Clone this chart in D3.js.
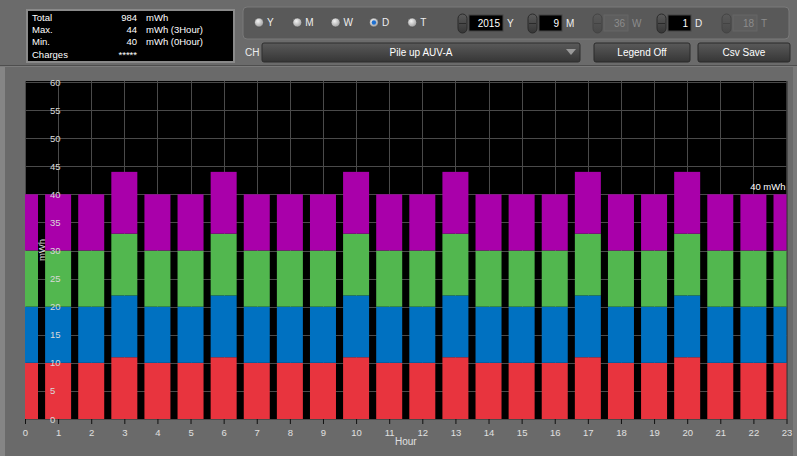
<!DOCTYPE html>
<html><head><meta charset="utf-8">
<script src="https://cdn.jsdelivr.net/npm/d3@7"></script>
<style>
html,body{margin:0;padding:0;background:#6a6a6a;overflow:hidden}
svg{display:block;font-family:"Liberation Sans",Arial,sans-serif}
</style></head><body>
<svg id="c" width="797" height="456"></svg>
<script>
// ---- data ----
const hours = [0,1,2,3,4,5,6,7,8,9,10,11,12,13,14,15,16,17,18,19,20,21,22,23];
const seriesRed     = [10,10,10,11,10,10,11,10,10,10,11,10,10,11,10,10,10,11,10,10,11,10,10,10];
const seriesBlue    = [10,10,10,11,10,10,11,10,10,10,11,10,10,11,10,10,10,11,10,10,11,10,10,10];
const seriesGreen   = [10,10,10,11,10,10,11,10,10,10,11,10,10,11,10,10,10,11,10,10,11,10,10,10];
const seriesMagenta = [10,10,10,11,10,10,11,10,10,10,11,10,10,11,10,10,10,11,10,10,11,10,10,10];
const seriesColors = ["#e8343e","#0071c1","#52b74f","#a900aa"];
const yTicks = [0,5,10,15,20,25,30,35,40,45,50,55,60];
const statLabels = ["Total","Max.","Min.","Charges"];
const statValues = ["984","44","40","*****"];
const statUnits = ["mWh","mWh (3Hour)","mWh (0Hour)",""];
const radioLabels = ["Y","M","W","D","T"];
const selectedRadio = "D";
const spinners = [{v:"2015",u:"Y",on:true},{v:"9",u:"M",on:true},{v:"36",u:"W",on:false},{v:"1",u:"D",on:true},{v:"18",u:"T",on:false}];
const channel = "Pile up AUV-A";
const lastLabel = "40 mWh";

const svg = d3.select("#c");
const defs = svg.append("defs");
const g1 = defs.append("linearGradient").attr("id","btn").attr("x1",0).attr("y1",0).attr("x2",0).attr("y2",1);
g1.append("stop").attr("offset","0").attr("stop-color","#5a5a5a");
g1.append("stop").attr("offset","1").attr("stop-color","#363636");
const g2 = defs.append("radialGradient").attr("id","rad").attr("cx","0.4").attr("cy","0.35").attr("r","0.7");
g2.append("stop").attr("offset","0").attr("stop-color","#f4f4f4");
g2.append("stop").attr("offset","1").attr("stop-color","#9a9a9a");

// ---- background ----
svg.append("rect").attr("width",797).attr("height",456).attr("fill","#6a6a6a");
svg.append("rect").attr("width",797).attr("height",65).attr("fill","#6b6b6b");
svg.append("rect").attr("x",0).attr("y",65).attr("width",797).attr("height",1).attr("fill","#4e4e4e");
svg.append("rect").attr("x",0).attr("y",66).attr("width",797).attr("height",1).attr("fill","#7c7c7c");
svg.append("rect").attr("x",0).attr("y",67).attr("width",5).attr("height",389).attr("fill","#858585");
svg.append("rect").attr("x",793).attr("y",67).attr("width",4).attr("height",389).attr("fill","#7a7a7a");

// ---- stats box ----
svg.append("rect").attr("x",26).attr("y",9).attr("width",209).attr("height",54).attr("fill","#8a8a8a");
svg.append("rect").attr("x",28).attr("y",11).attr("width",205).attr("height",50).attr("fill","#000");
const st = svg.append("g").attr("font-size",9.5).attr("fill","#fff");
statLabels.forEach((t,i)=>{
  const y = 21 + i*12.2;
  st.append("text").attr("x",32).attr("y",y).text(t);
  st.append("text").attr("x",137).attr("y",y).attr("text-anchor","end").text(statValues[i]);
  st.append("text").attr("x",146).attr("y",y).text(statUnits[i]);
});

// ---- control panel ----
svg.append("rect").attr("x",243).attr("y",7).attr("width",546).attr("height",32).attr("rx",4).attr("fill","#595959").attr("stroke","#7a7a7a");
const rg = svg.append("g").attr("font-size",10).attr("fill","#eee");
radioLabels.forEach((t,i)=>{
  const cx = 259 + i*38.3;
  rg.append("circle").attr("cx",cx).attr("cy",22.5).attr("r",4.5).attr("fill","url(#rad)").attr("stroke","#444").attr("stroke-width",0.6);
  if(t===selectedRadio) rg.append("circle").attr("cx",cx).attr("cy",22.5).attr("r",2.2).attr("fill","#1d6fd0");
  rg.append("text").attr("x",cx+8).attr("y",26).text(t);
});
const spX = [458, 528, 593, 657, 722];
const boxW = [34, 23, 24, 23, 24];
spinners.forEach((s,i)=>{
  const x = spX[i];
  const sg = svg.append("g").attr("opacity", s.on?1:0.45);
  sg.append("rect").attr("x",x).attr("y",14).attr("width",9).attr("height",19).attr("rx",4.5).attr("fill","url(#btn)").attr("stroke","#2a2a2a");
  sg.append("line").attr("x1",x+1).attr("x2",x+8).attr("y1",23.5).attr("y2",23.5).attr("stroke","#2a2a2a");
  const bx = x+11;
  svg.append("rect").attr("x",bx).attr("y",15).attr("width",boxW[i]).attr("height",16)
    .attr("fill", s.on?"#000":"#5e5e5e").attr("stroke", s.on?"#444":"#666");
  svg.append("text").attr("x",bx+boxW[i]-3).attr("y",27).attr("text-anchor","end").attr("font-size",10)
    .attr("fill", s.on?"#fff":"#8c8c8c").text(s.v);
  svg.append("text").attr("x",bx+boxW[i]+4).attr("y",27).attr("font-size",10)
    .attr("fill", s.on?"#eee":"#8c8c8c").text(s.u);
});
// second row
svg.append("text").attr("x",245).attr("y",56).attr("font-size",10).attr("fill","#eee").text("CH");
svg.append("rect").attr("x",262).attr("y",43).attr("width",318).attr("height",19).attr("rx",2).attr("fill","url(#btn)").attr("stroke","#2e2e2e");
svg.append("text").attr("x",421).attr("y",56).attr("text-anchor","middle").attr("font-size",10).attr("fill","#fff").text(channel);
svg.append("path").attr("d","M566,49 L576,49 L571,55 Z").attr("fill","#9a9a9a");
[[594,96,"Legend Off"],[698,92,"Csv Save"]].forEach(b=>{
  svg.append("rect").attr("x",b[0]).attr("y",43).attr("width",b[1]).attr("height",19).attr("rx",2).attr("fill","url(#btn)").attr("stroke","#2a2a2a");
  svg.append("text").attr("x",b[0]+b[1]/2).attr("y",56).attr("text-anchor","middle").attr("font-size",10).attr("fill","#fff").text(b[2]);
});

// ---- chart ----
const L=25, R=786.5, T=81, B=419;
const x = d3.scaleLinear().domain([0,23]).range([L,R]);
const y = d3.scaleLinear().domain([0,60]).range([B,T+1]);
svg.append("rect").attr("x",L).attr("y",T).attr("width",R-L).attr("height",B-T).attr("fill","#000");
defs.append("clipPath").attr("id","plot").append("rect").attr("x",L).attr("y",T).attr("width",R-L).attr("height",B-T);

const grid = svg.append("g").attr("stroke","#4a4a4a").attr("stroke-width",1);
grid.selectAll("line.v").data(hours).join("line").attr("class","v")
  .attr("x1",d=>Math.round(x(d))+0.5).attr("x2",d=>Math.round(x(d))+0.5).attr("y1",T).attr("y2",B);
grid.selectAll("line.h").data(yTicks).join("line").attr("class","h")
  .attr("x1",L).attr("x2",R).attr("y1",d=>Math.round(y(d))+0.5).attr("y2",d=>Math.round(y(d))+0.5);

const rows = hours.map((h,i)=>({hour:h, r:seriesRed[i], b:seriesBlue[i], g:seriesGreen[i], m:seriesMagenta[i]}));
const stack = d3.stack().keys(["r","b","g","m"])(rows);
const bw = 26;
const bars = svg.append("g").attr("clip-path","url(#plot)");
stack.forEach((layer,k)=>{
  bars.append("g").attr("fill",seriesColors[k]).selectAll("rect").data(layer).join("rect")
    .attr("x",d=>x(d.data.hour)-bw/2).attr("width",bw)
    .attr("y",d=>y(d[1])).attr("height",d=>y(d[0])-y(d[1]));
});

// y labels inside plot
const yl = svg.append("g").attr("font-size",9.5).attr("fill","#d8d8d8");
yl.selectAll("text").data(yTicks).join("text").attr("x",50).attr("y",d=>y(d)+3.5).text(d=>d);
svg.append("text").attr("transform",`translate(45,${(T+B)/2}) rotate(-90)`).attr("text-anchor","middle")
  .attr("font-size",9.5).attr("fill","#d8d8d8").text("mWh");

// x axis
const xa = svg.append("g").attr("transform",`translate(0,${B})`)
  .call(d3.axisBottom(x).tickValues(hours).tickFormat(d3.format("d")).tickSize(5).tickSizeOuter(0));
xa.select(".domain").remove();
xa.selectAll(".tick line").attr("stroke","#111");
xa.selectAll(".tick text").attr("fill","#e0e0e0").attr("font-size",9.5).attr("dy","0.9em").attr("font-family","Liberation Sans, Arial, sans-serif");
svg.append("text").attr("x",(L+R)/2).attr("y",445).attr("text-anchor","middle").attr("font-size",10).attr("fill","#e0e0e0").text("Hour");

// last value label
const lastTotal = seriesRed[23]+seriesBlue[23]+seriesGreen[23]+seriesMagenta[23];
svg.append("text").attr("x",R-1).attr("y",y(lastTotal)-4).attr("text-anchor","end").attr("font-size",9.5).attr("fill","#fff").text(lastLabel);
</script>
</body></html>
